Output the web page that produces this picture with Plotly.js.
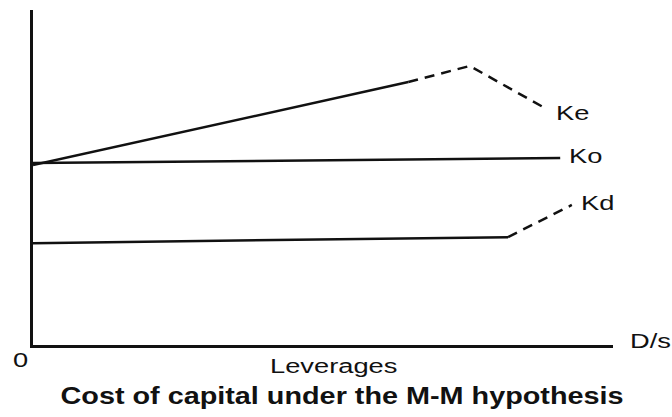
<!DOCTYPE html>
<html>
<head>
<meta charset="utf-8">
<script src="https://cdn.plot.ly/plotly-3.0.1.min.js"></script>
<style>
  html, body { margin: 0; padding: 0; background: #fff; }
  #chart { width: 672px; height: 417px; }
  .annotation-text { transform-box: fill-box; transform-origin: center; transform: scaleX(1.3); }
  .gtitle { transform-box: fill-box; transform-origin: center; transform: scaleX(1.2); }
</style>
</head>
<body>
<div id="chart"></div>
<script>
// Cost of equity (Ke): solid rising part, then dashed part
const keSolidX = [0, 64.7];
const keSolidY = [53.7, 78.5];
const keDashX = [64.7, 75.3, 88.6];
const keDashY = [78.5, 83.3, 70.4];
// Overall cost of capital (Ko)
const koX = [0, 90.9];
const koY = [54.3, 55.8];
// Cost of debt (Kd): solid flat part, then dashed rise
const kdSolidX = [0, 81.9];
const kdSolidY = [30.4, 32.2];
const kdDashX = [81.9, 92.9];
const kdDashY = [32.2, 41.8];

// Line labels (data coordinates)
const lineLabels = ["Ke", "Ko", "Kd"];
const lineLabelX = [93.1, 95.2, 97.3];
const lineLabelY = [69.3, 56.7, 42.5];

// Axis labels (paper coordinates)
const axisLabels = ["D/s", "0", "Leverages"];
const axisLabelX = [1.0655, -0.0224, 0.518];
const axisLabelY = [0.0134, -0.043, -0.061];

const ink = "#111111";
const solid = { color: ink, width: 2.5 };
const dashed = { color: ink, width: 2.5, dash: "10px,7px" };

const traces = [
  { x: keSolidX, y: keSolidY, mode: "lines", line: solid, name: "Ke", hoverinfo: "skip" },
  { x: keDashX, y: keDashY, mode: "lines", line: dashed, name: "Ke", hoverinfo: "skip" },
  { x: koX, y: koY, mode: "lines", line: solid, name: "Ko", hoverinfo: "skip" },
  { x: kdSolidX, y: kdSolidY, mode: "lines", line: solid, name: "Kd", hoverinfo: "skip" },
  { x: kdDashX, y: kdDashY, mode: "lines", line: dashed, name: "Kd", hoverinfo: "skip" }
];

const labelFont = { family: "Liberation Sans, Arial, sans-serif", size: 21, color: ink };

const annotations = lineLabels.map((t, i) => ({
  x: lineLabelX[i], y: lineLabelY[i], xref: "x", yref: "y",
  text: t, showarrow: false, xanchor: "center", yanchor: "middle", font: labelFont
}));
axisLabels.forEach((t, i) => annotations.push({
  x: axisLabelX[i], y: axisLabelY[i], xref: "paper", yref: "paper",
  text: t, showarrow: false, xanchor: "center", yanchor: "middle", font: labelFont
}));

const layout = {
  width: 672, height: 417,
  margin: { l: 33, r: 59, t: 10, b: 72 },
  paper_bgcolor: "#ffffff", plot_bgcolor: "#ffffff",
  showlegend: false,
  title: {
    text: "<b>Cost of capital under the M-M hypothesis</b>",
    font: { family: "Liberation Sans, Arial, sans-serif", size: 24, color: ink },
    xref: "container", yref: "container", x: 0.509, y: 0.052, xanchor: "center", yanchor: "middle"
  },
  xaxis: {
    range: [0, 100], showgrid: false, zeroline: false, showticklabels: false, ticks: "",
    showline: true, linecolor: ink, linewidth: 3, fixedrange: true
  },
  yaxis: {
    range: [0, 100], showgrid: false, zeroline: false, showticklabels: false, ticks: "",
    showline: true, linecolor: ink, linewidth: 3, fixedrange: true
  },
  annotations: annotations
};

Plotly.newPlot("chart", traces, layout, { displayModeBar: false, staticPlot: true });
</script>
</body>
</html>
